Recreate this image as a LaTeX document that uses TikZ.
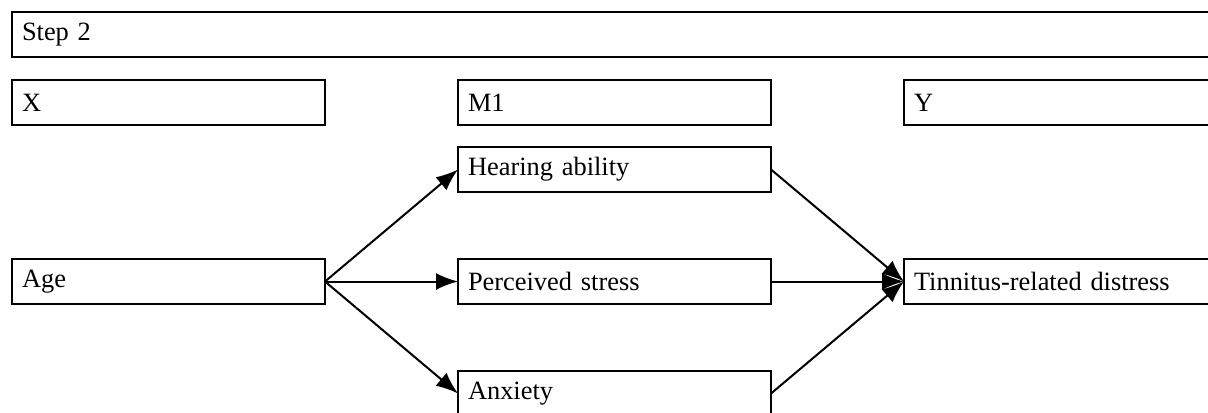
\documentclass[tikz,border=0pt]{standalone}
\usepackage{fontspec}
\setmainfont{Liberation Serif}
\usepackage{tikz}
\usetikzlibrary{arrows.meta,positioning}

\begin{document}
\begin{tikzpicture}[->,
            >={Latex[length=11pt,width=8.5pt]},
            line width=1pt,
            font=\fontsize{13.2}{16}\selectfont,
            varbox/.style={draw,rectangle,outer sep=0pt,inner xsep=5pt,
                           minimum height=22.5pt,text width=146.5pt,align=left},
            widebox/.style={varbox,text width=593pt}]

        \clip (0,0) rectangle (604pt,-206pt);

        \node[varbox,anchor=north west] (x) at (6pt,-40pt) {X};
        \node[varbox]          (m1)       [right=66.5pt of x]       {M1};
        \node[varbox]          (y)        [right=66.5pt of m1]      {Y};
        \node[widebox,above=11.5pt of x.north west,anchor=south west]
                               (step)                               {Step 2};

        \node[varbox]          (hearing)  [below=11pt of m1]        {Hearing ability};
        \node[varbox]          (stress)   [below=33.5pt of hearing] {Perceived stress};
        \node[varbox]          (anxiety)  [below=33.5pt of stress]  {Anxiety};
        \node[varbox]          (age)      [left=66.5pt of stress]   {Age};
        \node[varbox]          (distress) [right=66.5pt of stress]  {Tinnitus-related distress};

        \path (age.east)     edge (hearing.west)
                             edge (stress.west)
                             edge (anxiety.west)
              (hearing.east) edge (distress.west)
              (stress.east)  edge (distress.west)
              (anxiety.east) edge (distress.west);

    \end{tikzpicture}
\end{document}
